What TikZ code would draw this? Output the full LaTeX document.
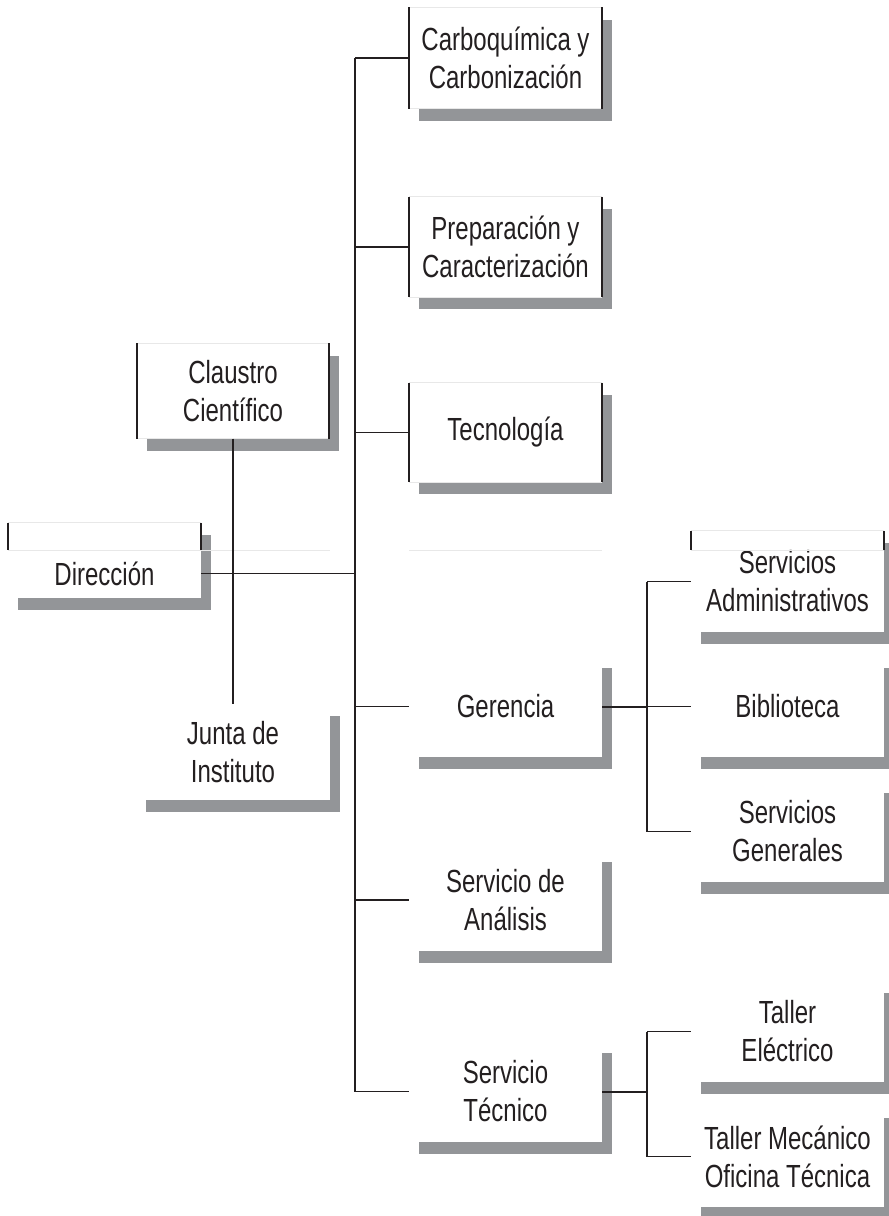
\documentclass[tikz,border=0pt]{standalone}
\usepackage{fontspec}
\setmainfont{Liberation Sans}[FakeStretch=0.75]
\usetikzlibrary{shadows}

\definecolor{sombra}{RGB}{147,149,152}
\definecolor{tenue}{RGB}{232,232,232}
\definecolor{tinta}{RGB}{35,31,32}

\tikzset{
  rotulo/.style={align=center, text=tinta, font=\fontsize{32}{38}\selectfont},
  caja/.style={rotulo, rectangle, fill=white, inner sep=0pt,
    minimum width=193, minimum height=101,
    general shadow={fill=sombra, shadow xshift=10pt, shadow yshift=-12pt}},
  lado/.style={line width=1.8pt, draw=tinta},
  enlace/.style={line width=1.3pt, draw=tinta},
  borde/.style={line width=1pt, draw=tenue}
}

\begin{document}
\begin{tikzpicture}[x=1pt,y=-1pt]

\useasboundingbox (0,0) rectangle (889,1216) ;
\clip (0,0) rectangle (889,1216) ;

% cajas de la columna central

\node[caja] (carbo) at (505.5,58) {Carboquímica y\\Carbonización} ;
\node[caja, minimum height=100] (prep) at (505.5,247) {Preparación y\\Caracterización} ;
\node[caja, minimum height=99] (tecno) at (505.5,432.5) {Tecnología} ;
\node[caja] (ger) at (505.5,706.5) {Gerencia} ;
\node[caja] (anal) at (505.5,900) {Servicio de\\Análisis} ;
\node[caja] (stec) at (505.5,1091.5) {Servicio\\Técnico} ;

% cajas de la izquierda

\node[caja, minimum width=192, minimum height=95] (claus) at (233,391) {Claustro\\Científico} ;
\node[caja, minimum height=75, label={[rotulo, name=dirtxt, yshift=-13]center:Dirección}] (dir) at (104.5,560.5) {} ;
\node[caja, minimum width=194, minimum height=96] (junta) at (233,752) {Junta de\\Instituto} ;

% cajas de la derecha

\node[caja] (sadm) at (787.5,581.5) {Servicios\\Administrativos} ;
\node[caja] (bibl) at (787.5,706.5) {Biblioteca} ;
\node[caja] (sgen) at (787.5,831.5) {Servicios\\Generales} ;
\node[caja] (telec) at (787.5,1031.5) {Taller\\Eléctrico} ;
\node[caja] (tmec) at (787.5,1156.5) {Taller Mecánico\\Oficina Técnica} ;

% bordes tenues y lados

\foreach \n in {carbo,prep,tecno,claus} {
  \draw[borde] (\n.north west) -- (\n.north east) ;
  \draw[borde] (\n.south west) -- (\n.south east) ;
  \draw[lado] (\n.north west) -- (\n.south west) ;
  \draw[lado] (\n.north east) -- (\n.south east) ;
}

\draw[borde] (dir.north west) -- (dir.north east) ;
\draw[borde] (sadm.north west) -- (sadm.north east) ;
\draw[borde] (8,550) -- (330,550) ;
\draw[borde] (409,550) -- (602,550) ;
\draw[borde] (691,550) -- (884,550) ;

\draw[lado] (dir.north west) -- ++(0,27) ;
\draw[lado] (dir.north east) -- ++(0,27) ;
\draw[lado] (sadm.north west) -- ++(0,19) ;
\draw[lado] (sadm.north east) -- ++(0,19) ;

% tronco principal

\coordinate (tronco) at (355,0) ;
\draw[enlace] (carbo.west -| tronco) -- (stec.west -| tronco) ;
\foreach \n in {carbo,prep,tecno,ger,anal,stec}
  \draw[enlace] (\n.west) -- (\n.west -| tronco) ;
\draw[enlace] (dir.east |- dirtxt) -- (dirtxt -| tronco) ;
\draw[enlace] (claus.south) -- (junta.north) ;

% ramales de la derecha

\coordinate (ramal) at (647,0) ;
\draw[enlace, line width=2pt] (ger.east) -- (ger.east -| ramal) ;
\draw[enlace] (sadm.west -| ramal) -- (sgen.west -| ramal) ;
\foreach \n in {sadm,bibl,sgen}
  \draw[enlace] (\n.west) -- (\n.west -| ramal) ;

\draw[enlace, line width=2pt] (stec.east) -- (stec.east -| ramal) ;
\draw[enlace] (telec.west -| ramal) -- (tmec.west -| ramal) ;
\foreach \n in {telec,tmec}
  \draw[enlace] (\n.west) -- (\n.west -| ramal) ;

\end{tikzpicture}
\end{document}
